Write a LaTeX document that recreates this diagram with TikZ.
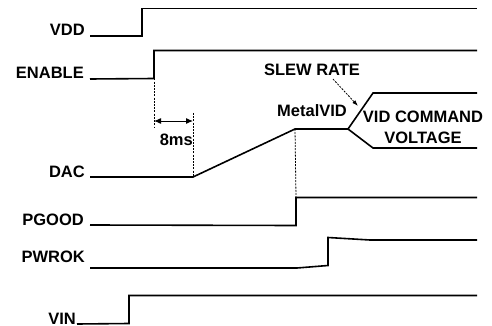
\documentclass[tikz,border=0pt]{standalone}
\usepackage{fontspec}
\setmainfont{Liberation Sans}
\usetikzlibrary{positioning, arrows.meta}
\tikzset{signame/.style={
        inner sep=0pt,
        anchor=base east
}}
\tikzset{note/.style={
        inner sep=0pt,
        align=center
}}
\tikzset{wave/.style={draw, line width=1.6pt}}
\tikzset{guide/.style={draw, line width=0.8pt, dash pattern=on 2pt off 1.2pt}}
\tikzset{timing/.style={draw, line width=1pt, {Latex[length=7pt,width=6pt]}-{Latex[length=7pt,width=6pt]}}}

\begin{document}
\begin{tikzpicture}[x=1pt, y=-1pt, every node/.style={font=\fontsize{16.5}{21}\selectfont\bfseries}]
\useasboundingbox (0,0) rectangle (492,326);
\node[signame] (vdd) at (85,36) {VDD};
\node[signame] (enable) at (84,79) {ENABLE};
\node[signame] (dac) at (85,177) {DAC};
\node[signame] (pgood) at (84,225) {PGOOD};
\node[signame] (pwrok) at (85,262) {PWROK};
\node[signame] (vin) at (76,324) {VIN};

\draw[wave] ([xshift=5pt]vdd.base east) -- (142,36) -- (142,8.5) -- (477,8.5);
\draw[wave] ([xshift=6pt]enable.base east) -- (154,78.5) coordinate (en) -- (154,50.5) -- (477,50.5);
\draw[wave] ([xshift=5pt]dac.base east) -- (193,177) coordinate (rampstart) -- (295,129) coordinate (metal)
        -- (348,129) coordinate (slew) -- (373,93) -- (477,93);
\draw[wave] (slew) -- (373,148) -- (477,148);
\draw[wave] ([xshift=6pt]pgood.base east) -- (296,225.5) -- (296,197.5) coordinate (pg) -- (477,197.5);
\draw[wave] (pwrok.base east) ++(5pt,-6pt) -- (297,268) -- (328,265.5) -- (328,237.5) -- (370,240) -- (477,240);
\draw[wave] ([xshift=1pt]vin.base east) -- (129,323.5) -- (129,295.5) -- (477,295.5);

% 8ms delay
\draw[guide] (en) -- (154,128);
\draw[guide] (193,113) -- (rampstart);
\draw[timing] (154,121) -- (193,121);
\node[note, anchor=east] (delay) at (193,140) {8ms};

% ramp and slew
\draw[guide] (metal) -- (pg);
\node[note] (metaltxt) at (312,111) {MetalVID};
\node[note] (slewtxt) at (312,70) {SLEW RATE};
\draw[guide, -{Latex[length=6pt,width=4pt]}] ([xshift=21pt,yshift=-3pt]slewtxt.south) -- (358,106);
\node[note] (vidtxt) at (423,127) {VID COMMAND\\VOLTAGE};
\end{tikzpicture}
\end{document}
